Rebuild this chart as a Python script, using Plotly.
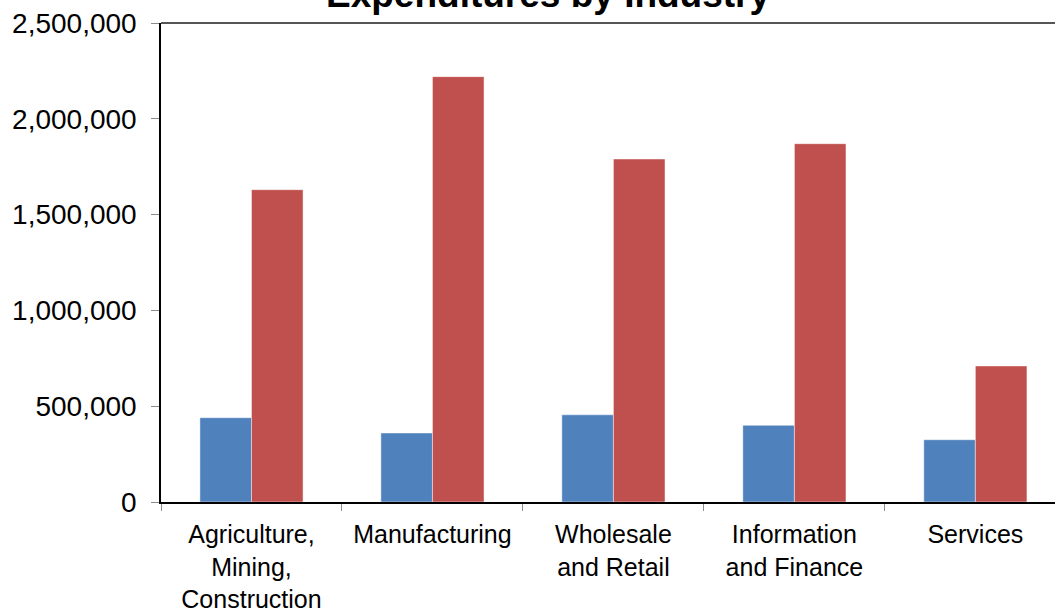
import plotly.graph_objects as go

# Industry categories (multi-line labels) and the two expenditure series
categories = [
    "Agriculture,<br>Mining,<br>Construction",
    "Manufacturing",
    "Wholesale<br>and Retail",
    "Information<br>and Finance",
    "Services",
]
series_a = [440000, 360000, 455000, 400000, 325000]
series_b = [1630000, 2220000, 1790000, 1870000, 710000]
y_ticks = [0, 500000, 1000000, 1500000, 2000000, 2500000]

FONT = "Arial, Liberation Sans, sans-serif"

fig = go.Figure()
fig.add_trace(go.Bar(
    x=categories, y=series_a, name="Series A",
    marker=dict(color="#4F81BD", line=dict(color="rgba(255,255,255,0.45)", width=1)),
))
fig.add_trace(go.Bar(
    x=categories, y=series_b, name="Series B",
    marker=dict(color="#C0504D", line=dict(color="rgba(255,255,255,0.45)", width=1)),
))

fig.update_layout(
    width=1055, height=616,
    margin=dict(l=161, r=0, t=22.5, b=113.5),
    paper_bgcolor="white", plot_bgcolor="white",
    barmode="group", bargap=0.43, bargroupgap=0,
    showlegend=False,
    font=dict(family=FONT, color="black", size=26),
)

fig.update_xaxes(
    type="category",
    range=[-0.5, 4.44],
    showline=True, linecolor="black", linewidth=2,
    ticks="outside", tickson="boundaries", ticklen=7, tickcolor="#8c8c8c", tickwidth=1,
    ticklabelstandoff=9,
    tickfont=dict(size=25, family=FONT, color="black"),
    showgrid=False, zeroline=False,
)
fig.update_yaxes(
    range=[0, 2500000],
    tickvals=y_ticks, tickformat=",d",
    showline=True, linecolor="black", linewidth=1.5,
    ticks="outside", ticklen=8, tickcolor="#8c8c8c", tickwidth=1,
    ticklabelstandoff=9,
    tickfont=dict(size=28, family=FONT, color="black"),
    showgrid=False, zeroline=False,
)

# Top border line of the plot area
fig.add_shape(type="line", xref="paper", yref="paper", x0=0, x1=1, y0=1, y1=1,
              line=dict(color="#555555", width=2))

# Chart title (sits partly above the page edge)
fig.add_annotation(
    text="<b>Expenditures by Industry</b>",
    xref="paper", yref="paper", x=0.433, y=1, xanchor="center", yanchor="bottom",
    yshift=6, showarrow=False,
    font=dict(size=37, family=FONT, color="black"),
)

fig.write_html("out.html")
